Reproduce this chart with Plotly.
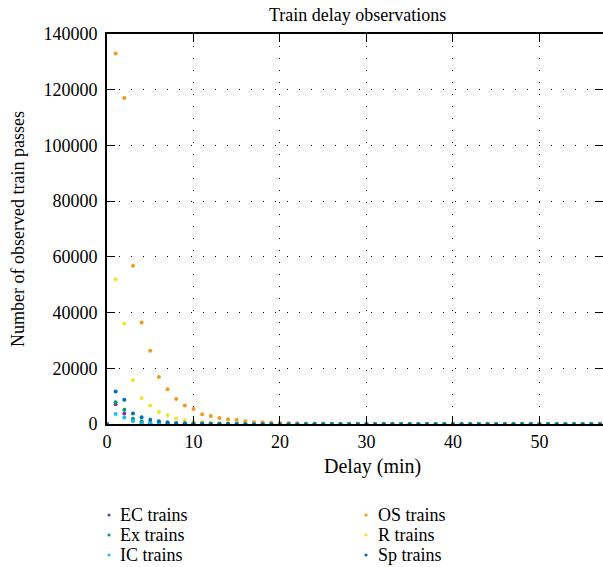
import plotly.graph_objects as go

delay = list(range(0, 58))

ec = [0, 7100, 3800, 1300, 500, 250, 150, 90, 60, 40, 30, 20, 15, 10, 8, 6, 5, 4, 3, 3,
      2, 2, 2, 1, 1, 1, 1, 1, 1, 1, 1, 0, 0, 0, 0, 0, 0, 0, 0, 0,
      0, 0, 0, 0, 0, 0, 0, 0, 0, 0, 0, 0, 0, 0, 0, 0, 0, 0]
ex = [0, 7800, 5100, 1900, 950, 400, 250, 150, 100, 70, 50, 40, 30, 25, 20, 15, 12, 10, 8, 7,
      6, 5, 4, 4, 3, 3, 2, 2, 2, 2, 1, 1, 1, 1, 1, 1, 1, 1, 1, 1,
      1, 1, 1, 1, 1, 1, 1, 1, 1, 1, 1, 1, 1, 1, 1, 1, 1, 1]
ic = [0, 3600, 2300, 1100, 300, 150, 90, 60, 40, 30, 20, 15, 10, 8, 6, 5, 4, 3, 3, 2,
      2, 2, 1, 1, 1, 1, 1, 1, 1, 1, 0, 0, 0, 0, 0, 0, 0, 0, 0, 0,
      0, 0, 0, 0, 0, 0, 0, 0, 0, 0, 0, 0, 0, 0, 0, 0, 0, 0]
os_ = [0, 133000, 117000, 56800, 36400, 26300, 16900, 12500, 9000, 6600, 5400, 3500, 2900, 2150, 1700, 1400, 950, 700, 600, 450,
       380, 300, 250, 200, 170, 150, 120, 100, 90, 80, 70, 60, 50, 45, 40, 35, 30, 28, 25, 22,
       20, 18, 16, 15, 14, 13, 12, 11, 10, 9, 8, 8, 7, 7, 6, 6, 5, 5]
r = [0, 52000, 36100, 15700, 9300, 6600, 4300, 3100, 2000, 1400, 1000, 700, 500, 380, 300, 230, 180, 140, 110, 90,
     70, 60, 50, 40, 35, 30, 25, 22, 20, 18, 16, 14, 12, 11, 10, 9, 8, 7, 6, 6,
     5, 5, 4, 4, 4, 3, 3, 3, 3, 2, 2, 2, 2, 2, 1, 1, 1, 1]
sp = [0, 11700, 8700, 3800, 2400, 1550, 950, 600, 400, 280, 200, 150, 110, 80, 60, 50, 40, 30, 25, 20,
      17, 15, 12, 10, 9, 8, 7, 6, 5, 5, 4, 4, 3, 3, 3, 2, 2, 2, 2, 2,
      1, 1, 1, 1, 1, 1, 1, 1, 1, 1, 1, 1, 1, 1, 1, 1, 1, 1]

names = ["EC trains", "Ex trains", "IC trains", "OS trains", "R trains", "Sp trains"]
values = [ec, ex, ic, os_, r, sp]
colors = ["#8B2FA8", "#009E73", "#22BBEE", "#F39A1E", "#F2E233", "#0072B2"]

x_ticks = [0, 10, 20, 30, 40, 50]
y_ticks = [0, 20000, 40000, 60000, 80000, 100000, 120000, 140000]

FONT = "Liberation Serif"
L, R, T, B = 107, 603, 34, 424
W, H = 603, 567
PW, PH = R - L, B - T

def px(xp):
    return (xp - L) / PW

def py(yp):
    return (B - yp) / PH

fig = go.Figure()
for name, vals, color in zip(names, values, colors):
    fig.add_trace(go.Scatter(
        x=delay, y=vals, mode="markers", name=name, showlegend=False,
        marker=dict(color=color, size=4, symbol="circle"),
        cliponaxis=False,
    ))

annotations = [
    dict(text="Train delay observations", xref="paper", yref="paper",
         x=px(357), y=py(15), xanchor="center", yanchor="middle", showarrow=False,
         font=dict(family=FONT, size=18)),
    dict(text="Delay (min)", xref="paper", yref="paper",
         x=px(372), y=py(466), xanchor="center", yanchor="middle", showarrow=False,
         font=dict(family=FONT, size=20)),
    dict(text="Number of observed train passes", xref="paper", yref="paper",
         x=px(18), y=py(229), xanchor="center", yanchor="middle", showarrow=False,
         textangle=-90, font=dict(family=FONT, size=18)),
]
shapes = []
# legend: two columns of three entries
col_marker_x = [109, 366]
col_text_x = [118, 376]
row_y = [515, 535, 555]
for i, (name, color) in enumerate(zip(names, colors)):
    c, rw = divmod(i, 3)
    mx, my = col_marker_x[c], row_y[rw]
    shapes.append(dict(type="circle", xref="paper", yref="paper",
                       x0=px(mx - 1.6), x1=px(mx + 1.6), y0=py(my + 1.6), y1=py(my - 1.6),
                       fillcolor=color, line=dict(width=0)))
    annotations.append(dict(text=name, xref="paper", yref="paper",
                            x=px(col_text_x[c]), y=py(my), xanchor="left", yanchor="middle",
                            showarrow=False, font=dict(family=FONT, size=18)))

fig.update_layout(
    width=W, height=H,
    margin=dict(l=L, r=W - R, t=T, b=H - B, autoexpand=False),
    paper_bgcolor="white", plot_bgcolor="white",
    font=dict(family=FONT, size=18, color="black"),
    showlegend=False,
    annotations=annotations,
    shapes=shapes,
)

fig.update_xaxes(
    range=[0, 57.35], tickvals=x_ticks, ticktext=[str(t) for t in x_ticks],
    showline=True, linecolor="black", linewidth=2, mirror="ticks",
    ticks="inside", ticklen=8, tickcolor="black", tickwidth=1,
    showgrid=True, gridcolor="black", gridwidth=1, griddash="1px,11px",
    zeroline=False, automargin=False,
    tickfont=dict(family=FONT, size=18),
)
fig.update_yaxes(
    range=[0, 140000], tickvals=y_ticks, ticktext=[str(t) for t in y_ticks],
    showline=True, linecolor="black", linewidth=2, mirror="ticks",
    ticks="inside", ticklen=8, tickcolor="black", tickwidth=1,
    showgrid=True, gridcolor="black", gridwidth=1, griddash="1px,11px",
    zeroline=False, automargin=False, ticklabelstandoff=4,
    tickfont=dict(family=FONT, size=18),
)

fig.write_html("out.html", config={"displayModeBar": False},
               post_script="document.body.style.margin='0px';document.body.style.overflow='hidden';")
